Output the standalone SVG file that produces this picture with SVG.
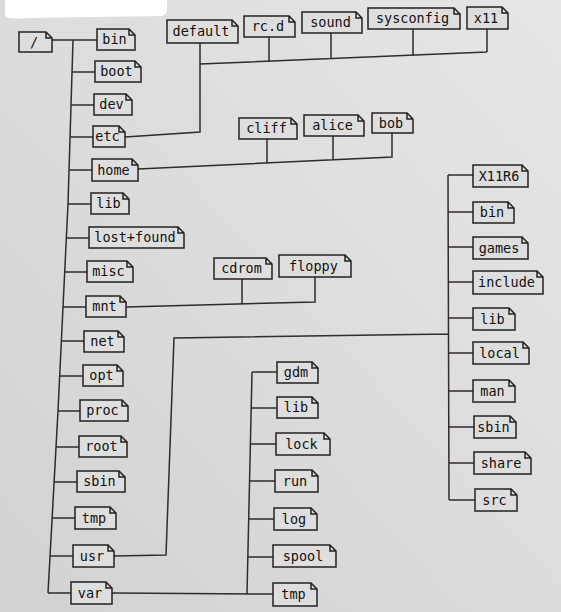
<svg xmlns="http://www.w3.org/2000/svg" width="561" height="612" viewBox="0 0 561 612">
<defs>
<linearGradient id="bg" x1="1" y1="0" x2="0" y2="1">
<stop offset="0" stop-color="#e6e6e6"/>
<stop offset="1" stop-color="#d2d2d2"/>
</linearGradient>
<style>
.box{fill:#dedede;stroke:#262020;stroke-width:1.5;stroke-linejoin:miter}
.lbl{font-family:"DejaVu Sans Mono","Liberation Mono",monospace;font-size:13.5px;fill:#111111;text-anchor:middle}
.con{fill:none;stroke:#332a2a;stroke-width:1.5}
</style>
</defs>
<rect width="561" height="612" fill="url(#bg)"/>
<path d="M5 0H167V10Q167 16 160 16L30 18Q5 20 5 15Z" fill="#ffffff"/>
<g id="connectors" class="con">
<path d="M73 40L68 204L63 307L58 411L48 593"/>
<path d="M52 40H97M72 72H95M71 105H94M70 137H93M69 170H92M68 204H91M66.3 238H89M64.7 272H87M63 307H86M61.4 341H84M59.7 376H83M58 411H80M56 447H79M54 482H77M52 518H75M50 556H73M48 593H71"/>
<path d="M125 137L200 132V43M200 64L487 52M269 37V61M331 33V58.5M413 29V55M487 29V52"/>
<path d="M138 169L392 157V133M267 139V163M333 136V160"/>
<path d="M126 307L315 302V277M242 279V304"/>
<path d="M114 556L166 555L174 338L448 334M448 175L449 500M448 175H473M448 212H473M448 247H473M448 282H473M448.4 318H473M448.5 353H473M448.6 391H473M448.7 427H474M448.8 463H474M449 500H475"/>
<path d="M112 593L273 594M252 372L247 594M252 372H277M251.2 408H277M250.4 444H276M249.5 481H275M248.7 519H274M247.8 557H273"/>
</g>
<g id="n-root"><path class="box" d="M19 32H46L52 38V52H19Z M46 32V38H52"/><text class="lbl" x="34" y="46.5">/</text></g>
<g id="n-bin"><path class="box" d="M97 29H129L135 35V50H97Z M129 29V35H135"/><text class="lbl" x="114.5" y="44">bin</text></g>
<g id="n-boot"><path class="box" d="M95 61H135L141 67V82H95Z M135 61V67H141"/><text class="lbl" x="116.5" y="76">boot</text></g>
<g id="n-dev"><path class="box" d="M94 94H126L132 100V115H94Z M126 94V100H132"/><text class="lbl" x="111.5" y="109">dev</text></g>
<g id="n-etc"><path class="box" d="M93 126H119L125 132V147H93Z M119 126V132H125"/><text class="lbl" x="107.5" y="141">etc</text></g>
<g id="n-home"><path class="box" d="M92 159H132L138 165V181H92Z M132 159V165H138"/><text class="lbl" x="113.5" y="174.5">home</text></g>
<g id="n-lib"><path class="box" d="M91 193H123L129 199V214H91Z M123 193V199H129"/><text class="lbl" x="108.5" y="208">lib</text></g>
<g id="n-lostfound"><path class="box" d="M89 227H178L184 233V248H89Z M178 227V233H184"/><text class="lbl" x="135" y="242">lost+found</text></g>
<g id="n-misc"><path class="box" d="M87 261H127L133 267V282H87Z M127 261V267H133"/><text class="lbl" x="108.5" y="276">misc</text></g>
<g id="n-mnt"><path class="box" d="M86 296H120L126 302V317H86Z M120 296V302H126"/><text class="lbl" x="104.5" y="311">mnt</text></g>
<g id="n-net"><path class="box" d="M84 331H118L124 337V352H84Z M118 331V337H124"/><text class="lbl" x="102.5" y="346">net</text></g>
<g id="n-opt"><path class="box" d="M83 365H117L123 371V386H83Z M117 365V371H123"/><text class="lbl" x="101.5" y="380">opt</text></g>
<g id="n-proc"><path class="box" d="M80 400H122L128 406V421H80Z M122 400V406H128"/><text class="lbl" x="102.5" y="415">proc</text></g>
<g id="n-rootdir"><path class="box" d="M79 436H121L127 442V457H79Z M121 436V442H127"/><text class="lbl" x="101.5" y="451">root</text></g>
<g id="n-sbin"><path class="box" d="M77 471H119L125 477V492H77Z M119 471V477H125"/><text class="lbl" x="99.5" y="486">sbin</text></g>
<g id="n-tmp"><path class="box" d="M75 507H110L116 513V529H75Z M110 507V513H116"/><text class="lbl" x="94" y="522.5">tmp</text></g>
<g id="n-usr"><path class="box" d="M73 545H108L114 551V567H73Z M108 545V551H114"/><text class="lbl" x="92" y="560.5">usr</text></g>
<g id="n-var"><path class="box" d="M71 582H106L112 588V604H71Z M106 582V588H112"/><text class="lbl" x="90" y="597.5">var</text></g>
<g id="n-default"><path class="box" d="M167 20H232L238 26V43H167Z M232 20V26H238"/><text class="lbl" x="201" y="36">default</text></g>
<g id="n-rcd"><path class="box" d="M244 16H289L295 22V37H244Z M289 16V22H295"/><text class="lbl" x="268" y="31">rc.d</text></g>
<g id="n-sound"><path class="box" d="M302 12H356L362 18V33H302Z M356 12V18H362"/><text class="lbl" x="330.5" y="27">sound</text></g>
<g id="n-sysconfig"><path class="box" d="M368 8H454L460 14V29H368Z M454 8V14H460"/><text class="lbl" x="412.5" y="23">sysconfig</text></g>
<g id="n-x11"><path class="box" d="M467 7H502L508 13V29H467Z M502 7V13H508"/><text class="lbl" x="486" y="22.5">x11</text></g>
<g id="n-cliff"><path class="box" d="M239 118H291L297 124V139H239Z M291 118V124H297"/><text class="lbl" x="266.5" y="133">cliff</text></g>
<g id="n-alice"><path class="box" d="M304 115H358L364 121V136H304Z M358 115V121H364"/><text class="lbl" x="332.5" y="130">alice</text></g>
<g id="n-bob"><path class="box" d="M372 113H407L413 119V133H372Z M407 113V119H413"/><text class="lbl" x="391" y="127.5">bob</text></g>
<g id="n-cdrom"><path class="box" d="M214 258H266L272 264V279H214Z M266 258V264H272"/><text class="lbl" x="241.5" y="273">cdrom</text></g>
<g id="n-floppy"><path class="box" d="M279 255H345L351 261V277H279Z M345 255V261H351"/><text class="lbl" x="313.5" y="270.5">floppy</text></g>
<g id="n-usr-x11r6"><path class="box" d="M473 165H522L528 171V187H473Z M522 165V171H528"/><text class="lbl" x="499" y="180.5">X11R6</text></g>
<g id="n-usr-bin"><path class="box" d="M473 202H508L514 208V223H473Z M508 202V208H514"/><text class="lbl" x="492" y="217">bin</text></g>
<g id="n-usr-games"><path class="box" d="M473 237H522L528 243V259H473Z M522 237V243H528"/><text class="lbl" x="499" y="252.5">games</text></g>
<g id="n-usr-include"><path class="box" d="M473 271H537L543 277V294H473Z M537 271V277H543"/><text class="lbl" x="506.5" y="287">include</text></g>
<g id="n-usr-lib"><path class="box" d="M473 308H509L515 314V330H473Z M509 308V314H515"/><text class="lbl" x="492.5" y="323.5">lib</text></g>
<g id="n-usr-local"><path class="box" d="M473 342H523L529 348V364H473Z M523 342V348H529"/><text class="lbl" x="499.5" y="357.5">local</text></g>
<g id="n-usr-man"><path class="box" d="M473 380H509L515 386V402H473Z M509 380V386H515"/><text class="lbl" x="492.5" y="395.5">man</text></g>
<g id="n-usr-sbin"><path class="box" d="M474 416H510L516 422V438H474Z M510 416V422H516"/><text class="lbl" x="493.5" y="431.5">sbin</text></g>
<g id="n-usr-share"><path class="box" d="M474 452H525L531 458V474H474Z M525 452V458H531"/><text class="lbl" x="501" y="467.5">share</text></g>
<g id="n-usr-src"><path class="box" d="M475 489H511L517 495V511H475Z M511 489V495H517"/><text class="lbl" x="494.5" y="504.5">src</text></g>
<g id="n-var-gdm"><path class="box" d="M277 362H312L318 368V383H277Z M312 362V368H318"/><text class="lbl" x="296" y="377">gdm</text></g>
<g id="n-var-lib"><path class="box" d="M277 397H312L318 403V418H277Z M312 397V403H318"/><text class="lbl" x="296" y="412">lib</text></g>
<g id="n-var-lock"><path class="box" d="M276 433H324L330 439V455H276Z M324 433V439H330"/><text class="lbl" x="301.5" y="448.5">lock</text></g>
<g id="n-var-run"><path class="box" d="M275 470H312L318 476V492H275Z M312 470V476H318"/><text class="lbl" x="295" y="485.5">run</text></g>
<g id="n-var-log"><path class="box" d="M274 508H311L317 514V530H274Z M311 508V514H317"/><text class="lbl" x="294" y="523.5">log</text></g>
<g id="n-var-spool"><path class="box" d="M273 545H330L336 551V567H273Z M330 545V551H336"/><text class="lbl" x="303" y="560.5">spool</text></g>
<g id="n-var-tmp"><path class="box" d="M273 583H311L317 589V606H273Z M311 583V589H317"/><text class="lbl" x="293.5" y="599">tmp</text></g>
</svg>
